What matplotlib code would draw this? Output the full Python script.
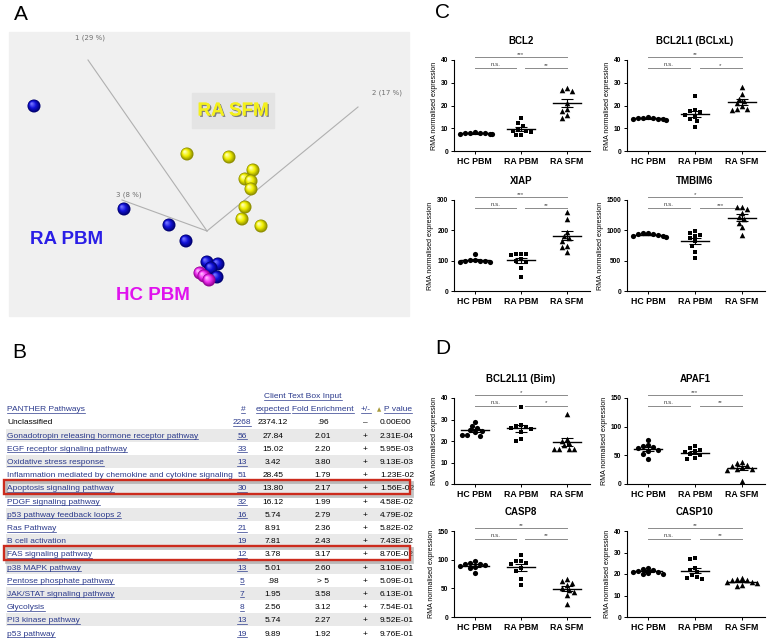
import numpy as np
import matplotlib
matplotlib.use("Agg")
import matplotlib.pyplot as plt
import matplotlib.patheffects as pe
from matplotlib.patches import Rectangle, Circle
from matplotlib.transforms import blended_transform_factory
from matplotlib.colors import to_rgb

W, H = 767, 643
plt.rcParams["font.family"] = ["Liberation Sans", "DejaVu Sans"]

# ---- panel A: PCA spheres (projected screen positions)
pca_rapbm_x = [34, 124, 169, 186, 207, 218, 211, 217]
pca_rapbm_y = [106, 209, 225, 241, 262, 264, 268, 277]
pca_hcpbm_x = [200, 204, 209]
pca_hcpbm_y = [273, 276, 280]
pca_rasfm_x = [187, 229, 253, 245, 251, 251, 245, 242, 261]
pca_rasfm_y = [154, 157, 170, 179, 181, 189, 207, 219, 226]
pca_axes = ["1 (29 %)", "2 (17 %)", "3 (8 %)"]

# ---- panel B: PANTHER table
pathways = ["Unclassified", "Gonadotropin releasing hormone receptor pathway",
            "EGF receptor signaling pathway", "Oxidative stress response",
            "Inflammation mediated by chemokine and cytokine signaling",
            "Apoptosis signaling pathway", "PDGF signaling pathway",
            "p53 pathway feedback loops 2", "Ras Pathway", "B cell activation",
            "FAS signaling pathway", "p38 MAPK pathway", "Pentose phosphate pathway",
            "JAK/STAT signaling pathway", "Glycolysis", "PI3 kinase pathway", "p53 pathway"]
counts = ["2268", "56", "33", "13", "51", "30", "32", "16", "21", "19", "12", "13", "5", "7", "8", "13", "19"]
expected = ["2374.12", "27.84", "15.02", "3.42", "28.45", "13.80", "16.12", "5.74", "8.91",
            "7.81", "3.78", "5.01", ".98", "1.95", "2.56", "5.74", "9.89"]
fold = [".96", "2.01", "2.20", "3.80", "1.79", "2.17", "1.99", "2.79", "2.36", "2.43", "3.17",
        "2.60", "> 5", "3.58", "3.12", "2.27", "1.92"]
signs = ["–"] + ["+"] * 16
pvalues = ["0.00E00", "2.31E-04", "5.95E-03", "9.13E-03", "1.23E-02", "1.56E-02", "4.58E-02",
           "4.79E-02", "5.82E-02", "7.43E-02", "8.70E-02", "3.10E-01", "5.09E-01", "6.13E-01",
           "7.54E-01", "9.52E-01", "9.76E-01"]
highlighted = ["Apoptosis signaling pathway", "FAS signaling pathway"]

# ---- panels C/D: RMA normalised expression
groups = ["HC PBM", "RA PBM", "RA SFM"]
bcl2_hc = [7.5, 7.8, 8.0, 7.4, 8.3, 7.6, 7.9, 7.7]
bcl2_ra = [14.5, 12.5, 11, 9.5, 9, 9, 8.5, 7, 7]
bcl2_sf = [27.5, 26.5, 26.8, 21, 18.5, 17.5, 16, 14.5]
bcl2l1_hc = [14.0, 14.5, 15.0, 13.8, 14.2, 14.6, 13.9, 14.3]
bcl2l1_ra = [24, 18, 17.5, 17, 15, 14, 13, 10.5, 16]
bcl2l1_sf = [28, 25, 23, 22, 21, 20, 18.5, 18, 18.5]
xiap_hc = [122, 101, 100, 99, 98, 97, 102, 96]
xiap_ra = [122, 122, 122, 120, 105, 100, 96, 75, 47]
xiap_sf = [262, 238, 195, 180, 175, 165, 150, 145, 128]
tmbim6_hc = [960, 950, 940, 935, 920, 910, 900, 890]
tmbim6_ra = [990, 960, 930, 900, 880, 820, 750, 650, 540]
tmbim6_sf = [1390, 1380, 1350, 1290, 1220, 1180, 1120, 1050, 920]
bim_hc = [29, 27, 26, 25, 24.5, 24, 23, 23, 22.5]
bim_ra = [36, 27.5, 27, 26.5, 26, 25.5, 24, 21, 20]
bim_sf = [32.5, 21, 20, 19, 18, 16.5, 16.5, 16.5, 16.5]
apaf1_hc = [77, 68, 67, 65, 63, 60, 57, 53, 43]
apaf1_ra = [67, 62, 60, 57, 55, 52, 50, 45, 44]
apaf1_sf = [38, 37, 33, 31, 29, 27, 26, 25, 5]
casp8_hc = [97, 95, 93, 92, 90, 89, 88, 86, 77]
casp8_ra = [108, 98, 97, 95, 93, 85, 80, 67, 56]
casp8_sf = [67, 62, 60, 55, 50, 47, 44, 38, 22]
casp10_hc = [23, 22.5, 22, 21.5, 21, 20.5, 20, 20, 21]
casp10_ra = [27.5, 27, 23, 22, 21, 19.5, 18.5, 18, 17.5]
casp10_sf = [18, 17.5, 17, 17, 16.5, 16.5, 16, 15, 14.5]

genes = [
    ("BCL2", bcl2_hc, bcl2_ra, bcl2_sf, 40, 10, ("***", "n.s.", "**")),
    ("BCL2L1 (BCLxL)", bcl2l1_hc, bcl2l1_ra, bcl2l1_sf, 40, 10, ("**", "n.s.", "*")),
    ("XIAP", xiap_hc, xiap_ra, xiap_sf, 300, 100, ("***", "n.s.", "**")),
    ("TMBIM6", tmbim6_hc, tmbim6_ra, tmbim6_sf, 1500, 500, ("*", "n.s.", "***")),
    ("BCL2L11 (Bim)", bim_hc, bim_ra, bim_sf, 40, 10, ("*", "n.s.", "*")),
    ("APAF1", apaf1_hc, apaf1_ra, apaf1_sf, 150, 50, ("***", "n.s.", "**")),
    ("CASP8", casp8_hc, casp8_ra, casp8_sf, 150, 50, ("**", "n.s.", "**")),
    ("CASP10", casp10_hc, casp10_ra, casp10_sf, 40, 10, ("**", "n.s.", "**")),
]

fig = plt.figure(figsize=(W / 100, H / 100), dpi=100)
bg = fig.add_axes([0, 0, 1, 1])
bg.set_xlim(0, W)
bg.set_ylim(H, 0)
bg.axis("off")

for lab, x, y in [("A", 21, 15), ("B", 19, 352), ("C", 442, 13), ("D", 443, 349)]:
    bg.text(x, y, lab, fontsize=15, ha="center", va="center")


# ---------------- panel A
bg.add_patch(Rectangle((9, 32), 400, 284, color="#f0f0f0", zorder=0))
origin = (207, 231)
ends = [(88, 60), (358, 107), (122, 200)]
for (ex, ey) in ends:
    bg.plot([origin[0], ex], [origin[1], ey], color="#b0b0b0", lw=0.8, zorder=1)
for txt, (tx, ty) in zip(pca_axes, [(75, 38), (372, 93), (116, 195)]):
    bg.text(tx, ty, txt, fontsize=5, color="#707070", va="center", family="DejaVu Sans")


def sphere(x, y, dark, mid, light, r=6.5):
    dark, mid, light = map(np.array, map(to_rgb, (dark, mid, light)))
    for t in np.linspace(0, 1, 9):
        if t < 0.5:
            col = dark + (mid - dark) * t / 0.5
        else:
            col = mid + (light - mid) * (t - 0.5) / 0.5
        rr = r * (1 - 0.85 * t)
        bg.add_patch(Circle((x - 0.35 * r * t, y - 0.35 * r * t), rr, color=col, lw=0, zorder=3))


for x, y in zip(pca_rasfm_x, pca_rasfm_y):
    sphere(x, y, "#8c8c00", "#f0ee00", "#ffffb0")
for x, y in zip(pca_rapbm_x, pca_rapbm_y):
    sphere(x, y, "#000070", "#1212d8", "#7070ff")
for x, y in zip(pca_hcpbm_x, pca_hcpbm_y):
    sphere(x, y, "#900090", "#f030f0", "#ffb0ff")

bg.add_patch(Rectangle((192, 93), 82, 35, color="#e4e4e4", zorder=1))
bg.text(233, 111, "RA SFM", fontsize=13.5, weight="bold", color="#f4f01c", ha="center", va="center",
        path_effects=[pe.withSimplePatchShadow(offset=(1, -1), shadow_rgbFace="#555555", alpha=0.7),
                      pe.Normal()])
bg.text(67, 240, "RA PBM", fontsize=13.5, weight="bold", color="#2a1ee6", ha="center", va="center")
bg.text(153, 295, "HC PBM", fontsize=13.5, weight="bold", color="#e012ee", ha="center", va="center")

# ---------------- panel B
link = "#2b3a8c"
row0, dy = 422, 13.19
under = []
fs = 6


def cell(x, y, s, ha="left", color="black", underline=False, size=fs):
    t = bg.text(x, y + 2.5, s, fontsize=size, ha=ha, va="baseline", color=color, zorder=5)
    if underline:
        under.append((t, y + 4))
    return t


for i in range(len(pathways)):
    y = row0 + i * dy
    if i % 2 == 1:
        bg.add_patch(Rectangle((6, y - dy / 2), 404, dy, color="#e9e9e9", lw=0, zorder=1))
    is_link = pathways[i] != "Unclassified"
    cell(7, y, pathways[i], color=link if is_link else "black", underline=is_link)
    cell(242, y, counts[i], ha="center", color=link, underline=True)
    cell(273, y, expected[i], ha="center")
    cell(323, y, fold[i], ha="center")
    cell(365, y, signs[i], ha="center")
    cell(380, y, pvalues[i])
    if pathways[i] in highlighted:
        bg.add_patch(Rectangle((5.5, y - 6), 406, 14, fill=False, lw=2, ec="#888888", alpha=0.5, zorder=6))
        bg.add_patch(Rectangle((4, y - 7.5), 406, 14, fill=False, lw=1.7, ec="#cc2b1d", zorder=7))

hy = row0 - dy
cell(303, row0 - 2 * dy, "Client Text Box Input", ha="center", color=link, underline=True)
cell(7, hy, "PANTHER Pathways", color=link, underline=True)
cell(243, hy, "#", ha="center", color=link, underline=True)
cell(273, hy, "expected", ha="center", color=link, underline=True)
cell(323, hy, "Fold Enrichment", ha="center", color=link, underline=True)
cell(366, hy, "+/-", ha="center", color=link, underline=True)
bg.text(377, hy + 2.5, "▲", fontsize=4, color="#a89a3a", ha="left", va="baseline", family="DejaVu Sans")
cell(384, hy, "P value", color=link, underline=True)

# ---------------- panels C / D
col_left = [454, 627]
col_w = [136, 138]
row_top = [60, 200, 398, 531]
row_h = [91, 91, 86, 86]
markers = ["o", "s", "^"]
msizes = [14, 12, 16]


def swarm_offsets(vals, ymax, h_px, cat_px, d=5.0):
    vals = np.asarray(vals, float)
    ypx = vals / ymax * h_px
    xs = np.zeros(len(vals))
    placed = []
    for i in np.argsort(-vals):
        for k in [0, -0.5, 0.5, -1, 1, -1.5, 1.5, -2, 2, -2.5, 2.5, -3, 3, -3.5, 3.5]:
            x = k * d
            if all((x - px) ** 2 + (ypx[i] - py) ** 2 >= (0.95 * d) ** 2 for px, py in placed):
                break
        xs[i] = x
        placed.append((x, ypx[i]))
    return xs / cat_px


for idx, (name, hc, ra, sf, ymax, step, sig) in enumerate(genes):
    r, c = divmod(idx, 2)
    left, w, top, ax_h = col_left[c], col_w[c], row_top[r], row_h[r]
    ax = fig.add_axes([left / W, 1 - (top + ax_h) / H, w / W, ax_h / H])
    cat_px = w / 2.95
    for g, vals in enumerate([hc, ra, sf]):
        off = swarm_offsets(vals, ymax, ax_h, cat_px)
        ax.scatter(g + off, vals, marker=markers[g], s=msizes[g], c="black", linewidths=0,
                   zorder=3, clip_on=False)
        m = np.mean(vals)
        se = np.std(vals, ddof=1) / np.sqrt(len(vals))
        ax.plot([g - 0.3, g + 0.3], [m, m], color="black", lw=1.0, zorder=4)
        ax.errorbar(g, m, yerr=se, color="black", lw=0.8, capsize=4.5, capthick=0.8, zorder=4)
    ax.set_xlim(-0.45, 2.5)
    ax.set_ylim(0, ymax)
    ax.set_yticks(np.arange(0, ymax + 1, step))
    ax.set_xticks(range(3))
    ax.set_xticklabels(groups, fontsize=6.3, weight="bold")
    for lbl in ax.get_yticklabels():
        lbl.set_fontsize(4.8)
        lbl.set_weight("bold")
    ax.tick_params(length=2.5, width=0.7, pad=1.5)
    for s in ["top", "right"]:
        ax.spines[s].set_visible(False)
    for s in ["left", "bottom"]:
        ax.spines[s].set_linewidth(0.8)
    ax.set_ylabel("RMA normalised expression", fontsize=5, labelpad=2)
    ax.patch.set_alpha(0)

    tr = blended_transform_factory(ax.transData, ax.transAxes)
    yo, yi = 1.03, 0.91
    kw = dict(color="#8a8a8a", lw=0.7, transform=tr, clip_on=False)
    ax.plot([0, 2], [yo, yo], **kw)
    ax.plot([0, 0.9], [yi, yi], **kw)
    ax.plot([1.1, 2], [yi, yi], **kw)
    tk = dict(transform=tr, fontsize=4.5, color="#444444", ha="center", va="bottom")
    ax.text(1.0, yo + 0.005, sig[0], **tk)
    ax.text(0.45, yi + 0.01, sig[1], **tk)
    ax.text(1.55, yi + 0.005, sig[2], **tk)
    ax.text(1.0, 1 + 19 / ax_h, name, transform=tr, fontsize=7, weight="bold", ha="center", va="center")

# underline the link texts of the table
fig.canvas.draw()
rend = fig.canvas.get_renderer()
for t, uy in under:
    bb = t.get_window_extent(rend)
    bg.plot([bb.x0, bb.x1], [uy, uy], color=t.get_color(), lw=0.5, zorder=5)

fig.savefig("out.png", dpi=100)
